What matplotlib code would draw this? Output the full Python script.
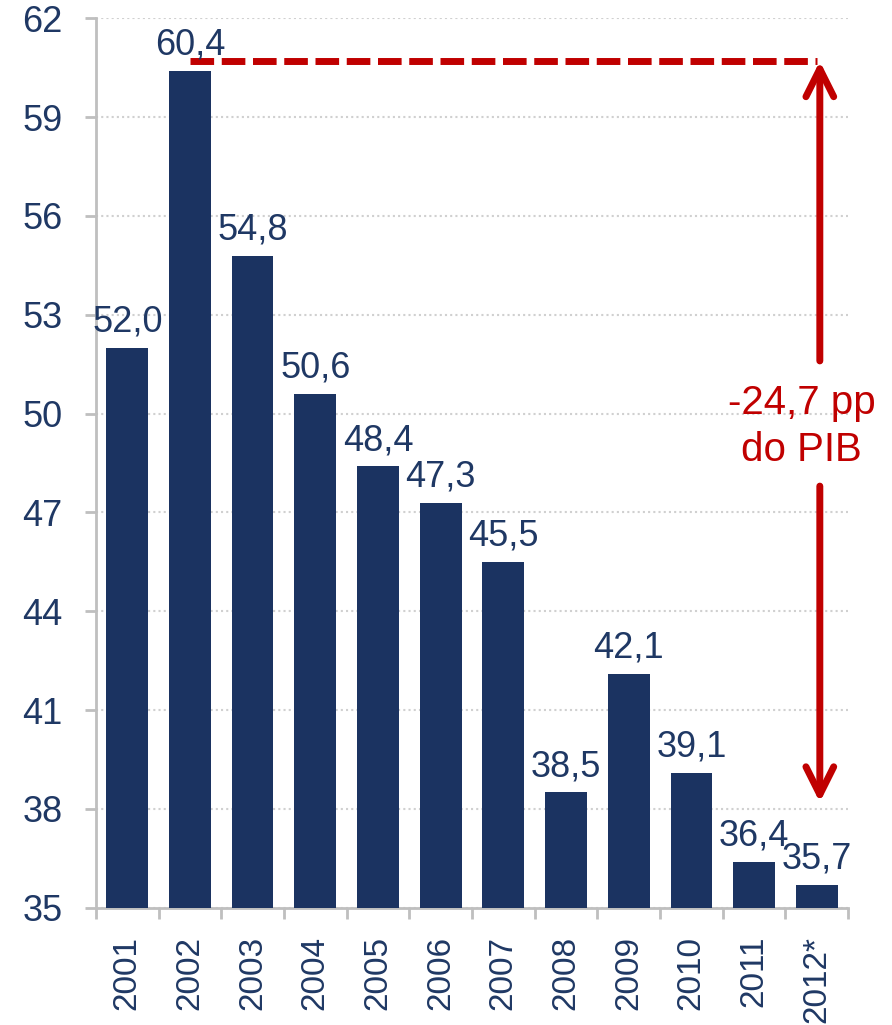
import matplotlib.pyplot as plt
from matplotlib.ticker import FixedLocator

plt.rcParams['font.family'] = ['Liberation Sans', 'DejaVu Sans']

years = ["2001", "2002", "2003", "2004", "2005", "2006",
         "2007", "2008", "2009", "2010", "2011", "2012*"]
debt = [52.0, 60.4, 54.8, 50.6, 48.4, 47.3, 45.5, 38.5, 42.1, 39.1, 36.4, 35.7]
yticks = [35, 38, 41, 44, 47, 50, 53, 56, 59, 62]

# reference level and span of the drop arrow
ref_level = 60.7
arrow_low = 38.2
drop_label = "-24,7 pp\ndo PIB"

navy = "#1B3361"
text_navy = "#1F3864"
red = "#C00000"
grey = "#BFBFBF"

fig = plt.figure(figsize=(8.92, 10.25), dpi=100)
ax = fig.add_axes([0.1076, 0.1144, 0.8431, 0.8677])

x = list(range(len(years)))
ax.bar(x, [v - 35 for v in debt], bottom=35, width=0.665, color=navy, zorder=3)

for xi, v in zip(x, debt):
    ax.annotate(f"{v:.1f}".replace(".", ","), (xi, v), xytext=(0, 6),
                textcoords="offset points", ha="center", va="bottom",
                fontsize=26, color=text_navy, zorder=5)

ax.set_xlim(-0.5, len(years) - 0.5)
ax.set_ylim(35, 62)
ax.set_yticks(yticks)
ax.set_yticklabels([str(t) for t in yticks])
ax.set_xticks(x)
ax.set_xticklabels(years, rotation=90)
ax.xaxis.set_minor_locator(FixedLocator([i - 0.5 for i in range(len(years) + 1)]))

ax.tick_params(axis="x", which="major", length=0, pad=20, labelsize=24,
               labelcolor=text_navy)
ax.tick_params(axis="x", which="minor", length=8, width=2, color=grey)
ax.tick_params(axis="y", length=8, width=2, color=grey, pad=16,
               labelsize=26, labelcolor=text_navy)

for side in ("top", "right"):
    ax.spines[side].set_visible(False)
for side in ("left", "bottom"):
    ax.spines[side].set_color(grey)
    ax.spines[side].set_linewidth(2)

ax.yaxis.grid(True, linestyle=(0, (1, 1.5)), color="#D0D0D0", linewidth=1.5, zorder=0)
ax.set_axisbelow(True)

# dashed reference line from the 2002 peak
line, = ax.plot([1, 11], [ref_level, ref_level], color=red, linewidth=5,
                solid_capstyle="butt", zorder=4)
line.set_dashes([3.4, 1.1])
line.set_dash_capstyle("butt")

# double arrow split around its label
label_y = 49.6
arrow_kw = dict(arrowstyle="->,head_length=1.0,head_width=0.5", color=red,
                lw=5, mutation_scale=20, shrinkA=0, shrinkB=0,
                capstyle="round", joinstyle="round")
ax.annotate("", xy=(11.05, ref_level), xytext=(11.05, 51.6),
            arrowprops=arrow_kw, zorder=4)
ax.annotate("", xy=(11.05, arrow_low), xytext=(11.05, 47.8),
            arrowprops=arrow_kw, zorder=4)
ax.text(10.76, label_y, drop_label, ha="center", va="center", fontsize=29,
        color=red, linespacing=1.3, zorder=5)

fig.savefig("out.png", dpi=100)
